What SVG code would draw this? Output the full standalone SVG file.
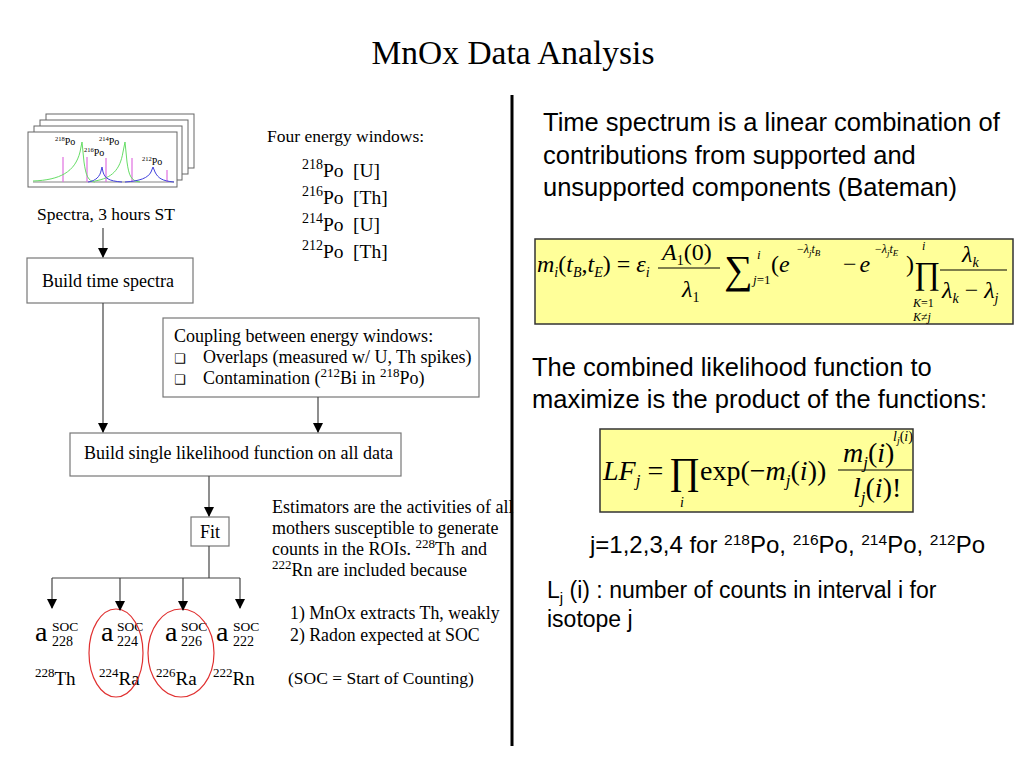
<svg xmlns="http://www.w3.org/2000/svg" width="1024" height="768" viewBox="0 0 1024 768">
<style>
.t{font-family:"Liberation Serif","Times New Roman",serif;fill:#000}
.s{font-family:"Liberation Sans",Arial,sans-serif;fill:#000}
.box{fill:#fff;stroke:#777;stroke-width:1.2}
.frame{fill:#fff;stroke:#666;stroke-width:1}
.ln{stroke:#444;stroke-width:1.2;fill:none}
.fbox{fill:#ffff99;stroke:#333;stroke-width:1.5}
.i{font-style:italic}
.red{fill:none;stroke:#e03030;stroke-width:1.2}
</style>
<defs>
<marker id="ah" markerWidth="10" markerHeight="14" refX="9" refY="5" orient="auto" markerUnits="userSpaceOnUse">
<path d="M0,0 L10,5 L0,10 Z" fill="#000"/>
</marker>
</defs>
<rect width="1024" height="768" fill="#fff"/>
<text class="t" x="513" y="64" font-size="33.5" text-anchor="middle">MnOx Data Analysis</text>
<line x1="512" y1="95" x2="512" y2="746" stroke="#000" stroke-width="3"/>

<g id="spectra">
<rect class="frame" x="46" y="114" width="148" height="54"/>
<rect class="frame" x="40" y="120" width="148" height="54"/>
<rect class="frame" x="34" y="126" width="148" height="54"/>
<rect class="frame" x="28" y="132" width="149" height="55"/>
<line x1="33" y1="182" x2="174" y2="182" stroke="#666" stroke-width="0.8"/>
<g stroke="#e070e0" stroke-width="1.2">
<line x1="63" y1="182" x2="63" y2="157"/>
<line x1="87" y1="182" x2="87" y2="157"/>
<line x1="106" y1="182" x2="106" y2="158"/>
<line x1="132" y1="182" x2="132" y2="158"/>
<line x1="167" y1="182" x2="167" y2="170"/>
</g>
<g fill="none" stroke="#66dd66" stroke-width="1">
<path d="M33,181 C60,180 75,172 80,152 L82,142 L84,162 C86,176 88,181 95,182"/>
<path d="M95,181 C112,178 120,170 123,152 L125,142 L127,162 C129,176 131,181 140,182"/>
</g>
<g fill="none" stroke="#4040dd" stroke-width="1">
<path d="M88,182 C96,181 100,176 101,171 L102,167 L103,172 C105,178 108,181 122,182"/>
<path d="M125,182 C140,181 148,178 151,172 L153,167 L155,172 C158,178 162,181 174,182"/>
</g>
<g class="t" font-size="10">
<text x="55" y="145"><tspan font-size="6.5" dy="-4">218</tspan><tspan dy="4">Po</tspan></text>
<text x="84" y="156"><tspan font-size="6.5" dy="-4">216</tspan><tspan dy="4">Po</tspan></text>
<text x="99" y="145"><tspan font-size="6.5" dy="-4">214</tspan><tspan dy="4">Po</tspan></text>
<text x="142" y="165"><tspan font-size="6.5" dy="-4">212</tspan><tspan dy="4">Po</tspan></text>
</g>
<text class="t" x="37" y="220" font-size="17.5">Spectra, 3 hours ST</text>
</g>

<g id="windows" class="t" font-size="19.5">
<text x="267" y="142" font-size="17.5">Four energy windows:</text>
<text x="302" y="177"><tspan font-size="14" dy="-8">218</tspan><tspan dy="8">Po</tspan></text><text x="353" y="177">[U]</text>
<text x="302" y="204"><tspan font-size="14" dy="-8">216</tspan><tspan dy="8">Po</tspan></text><text x="353" y="204">[Th]</text>
<text x="302" y="231"><tspan font-size="14" dy="-8">214</tspan><tspan dy="8">Po</tspan></text><text x="353" y="231">[U]</text>
<text x="302" y="258"><tspan font-size="14" dy="-8">212</tspan><tspan dy="8">Po</tspan></text><text x="353" y="258">[Th]</text>
</g>

<g id="build-time">
<rect class="box" x="27" y="258" width="166" height="45"/>
<text class="t" x="42" y="287" font-size="18">Build time spectra</text>
</g>

<g id="coupling">
<rect class="box" x="163" y="318" width="316" height="79"/>
<text class="t" x="174" y="342" font-size="18">Coupling between energy windows:</text>
<text x="174" y="363" font-size="13" font-family="DejaVu Sans,sans-serif">❑</text>
<text class="t" x="203" y="363" font-size="18">Overlaps (measured w/ U, Th spikes)</text>
<text x="174" y="384" font-size="13" font-family="DejaVu Sans,sans-serif">❑</text>
<text class="t" x="203" y="384" font-size="18">Contamination (<tspan font-size="13" dy="-7">212</tspan><tspan dy="7">Bi in </tspan><tspan font-size="13" dy="-7">218</tspan><tspan dy="7">Po)</tspan></text>
</g>

<g id="likelihood">
<rect class="box" x="70" y="433" width="331" height="43"/>
<text class="t" x="84" y="459" font-size="18">Build single likelihood function on all data</text>
</g>

<g id="fit">
<rect class="box" x="191" y="517" width="38" height="29"/>
<text class="t" x="210" y="538" font-size="18" text-anchor="middle">Fit</text>
</g>

<g id="estimators" class="t" font-size="18">
<text x="272" y="513">Estimators are the activities of all</text>
<text x="272" y="534">mothers susceptible to generate</text>
<text x="272" y="555">counts in the ROIs. <tspan font-size="13" dy="-7">228</tspan><tspan dy="7">Th</tspan><tspan dx="6">and</tspan></text>
<text x="272" y="576"><tspan font-size="13" dy="-7">222</tspan><tspan dy="7">Rn are included because</tspan></text>
<text x="290" y="619" font-size="17.8">1) MnOx extracts Th, weakly</text>
<text x="290" y="641" font-size="17.8">2) Radon expected at SOC</text>
<text x="288" y="684" font-size="17.5">(SOC = Start of Counting)</text>
</g>

<g id="a228" class="t">
<text x="35" y="641" font-size="28">a</text>
<text x="52" y="631" font-size="13.5">SOC</text>
<text x="52" y="646" font-size="14">228</text>
<text x="35" y="685" font-size="19"><tspan font-size="13" dy="-8">228</tspan><tspan dy="8">Th</tspan></text>
</g>
<g id="a224" class="t">
<text x="101" y="641" font-size="28">a</text>
<text x="117" y="631" font-size="13.5">SOC</text>
<text x="117" y="646" font-size="14">224</text>
<text x="99" y="685" font-size="19"><tspan font-size="13" dy="-8">224</tspan><tspan dy="8">Ra</tspan></text>
<ellipse class="red" cx="116" cy="653" rx="27" ry="44"/>
</g>
<g id="a226" class="t">
<text x="165" y="641" font-size="28">a</text>
<text x="181" y="631" font-size="13.5">SOC</text>
<text x="181" y="646" font-size="14">226</text>
<text x="156" y="685" font-size="19"><tspan font-size="13" dy="-8">226</tspan><tspan dy="8">Ra</tspan></text>
<ellipse class="red" cx="181" cy="653" rx="33" ry="44"/>
</g>
<g id="a222" class="t">
<text x="216" y="641" font-size="28">a</text>
<text x="233" y="631" font-size="13.5">SOC</text>
<text x="233" y="646" font-size="14">222</text>
<text x="213" y="685" font-size="19"><tspan font-size="13" dy="-8">222</tspan><tspan dy="8">Rn</tspan></text>
</g>

<g id="connectors" class="ln">
<line x1="103" y1="228" x2="103" y2="257" marker-end="url(#ah)"/>
<line x1="103" y1="303" x2="103" y2="432" marker-end="url(#ah)"/>
<line x1="318" y1="397" x2="318" y2="432" marker-end="url(#ah)"/>
<line x1="209" y1="476" x2="209" y2="516" marker-end="url(#ah)"/>
<polyline points="209,546 209,578"/>
<line x1="52" y1="578" x2="240" y2="578"/>
<line x1="52" y1="578" x2="52" y2="608" marker-end="url(#ah)"/>
<line x1="120" y1="578" x2="120" y2="610" marker-end="url(#ah)"/>
<line x1="183" y1="578" x2="183" y2="610" marker-end="url(#ah)"/>
<line x1="240" y1="578" x2="240" y2="608" marker-end="url(#ah)"/>
</g>

<g id="right-text" class="s" font-size="25.5">
<text x="543" y="131">Time spectrum is a linear combination of</text>
<text x="543" y="164">contributions from supported and</text>
<text x="543" y="196">unsupported components (Bateman)</text>
<text x="532" y="376">The combined likelihood function to</text>
<text x="532" y="408">maximize is the product of the functions:</text>
<text x="590" y="553" font-size="24">j=1,2,3,4 for <tspan font-size="15.5" dy="-8">218</tspan><tspan dy="8">Po, </tspan><tspan font-size="15.5" dy="-8">216</tspan><tspan dy="8">Po, </tspan><tspan font-size="15.5" dy="-8">214</tspan><tspan dy="8">Po, </tspan><tspan font-size="15.5" dy="-8">212</tspan><tspan dy="8">Po</tspan></text>
<text x="547" y="598" font-size="23">L<tspan font-size="15" dy="5">j</tspan><tspan dy="-5"> (i) : number of counts in interval i for</tspan></text>
<text x="547" y="627" font-size="23">isotope j</text>
</g>

<g id="formula1" class="t">
<rect class="fbox" x="535" y="239" width="478" height="85"/>
<g font-size="24">
<text x="537" y="272"><tspan class="i">m</tspan><tspan class="i" font-size="14" dy="5">i</tspan><tspan dy="-5">(</tspan><tspan class="i">t</tspan><tspan class="i" font-size="14" dy="5">B</tspan><tspan dy="-5">,</tspan><tspan class="i">t</tspan><tspan class="i" font-size="14" dy="5">E</tspan><tspan dy="-5">) = </tspan><tspan class="i">ε</tspan><tspan class="i" font-size="14" dy="5">i</tspan></text>
<text x="662" y="260"><tspan class="i">A</tspan><tspan font-size="14" dy="5">1</tspan><tspan dy="-5">(0)</tspan></text>
<text x="682" y="297"><tspan class="i">λ</tspan><tspan font-size="14" dy="5">1</tspan></text>
<text x="724" y="283" font-size="40">∑</text>
<text class="i" x="757" y="259" font-size="13">i</text>
<text x="753" y="284" font-size="13"><tspan class="i">j</tspan>=1</text>
<text x="771" y="272">(<tspan class="i">e</tspan></text>
<text x="797" y="253" font-size="12">−<tspan class="i">λ</tspan><tspan class="i" font-size="9" dy="3">j</tspan><tspan class="i" dy="-3">t</tspan><tspan class="i" font-size="9" dy="3">B</tspan></text>
<text x="843" y="272">−<tspan class="i" dx="3">e</tspan></text>
<text x="875" y="253" font-size="12">−<tspan class="i">λ</tspan><tspan class="i" font-size="9" dy="3">j</tspan><tspan class="i" dy="-3">t</tspan><tspan class="i" font-size="9" dy="3">E</tspan></text>
<text x="906" y="272">)</text>
<text x="914" y="284" font-size="32">∏</text>
<text class="i" x="922" y="250" font-size="12">i</text>
<text x="913" y="307" font-size="12"><tspan class="i">K</tspan>=1</text>
<text x="913" y="321" font-size="12"><tspan class="i">K</tspan>≠<tspan class="i">j</tspan></text>
<text x="962" y="262"><tspan class="i">λ</tspan><tspan class="i" font-size="14" dy="5">k</tspan></text>
<text x="942" y="298"><tspan class="i">λ</tspan><tspan class="i" font-size="14" dy="5">k</tspan><tspan dy="-5"> − </tspan><tspan class="i">λ</tspan><tspan class="i" font-size="14" dy="5">j</tspan></text>
</g>
<line x1="658" y1="268" x2="720" y2="268" stroke="#000" stroke-width="1"/>
<line x1="940" y1="270" x2="1007" y2="270" stroke="#000" stroke-width="1"/>
</g>

<g id="formula2" class="t">
<rect class="fbox" x="600" y="429" width="313" height="83"/>
<g font-size="28">
<text x="603" y="480"><tspan class="i">LF</tspan><tspan class="i" font-size="17" dy="6">j</tspan><tspan dy="-6"> =</tspan></text>
<text x="669" y="484" font-size="38">∏</text>
<text class="i" x="680" y="507" font-size="14">i</text>
<text x="700" y="480">exp(−<tspan class="i">m</tspan><tspan class="i" font-size="17" dy="6">j</tspan><tspan dy="-6">(</tspan><tspan class="i">i</tspan>))</text>
<text x="843" y="462"><tspan class="i">m</tspan><tspan class="i" font-size="17" dy="6">j</tspan><tspan dy="-6">(</tspan><tspan class="i">i</tspan>)</text>
<text x="893" y="441" font-size="14"><tspan class="i">l</tspan><tspan class="i" font-size="10" dy="3">j</tspan><tspan dy="-3">(</tspan><tspan class="i">i</tspan>)</text>
<text x="853" y="497"><tspan class="i">l</tspan><tspan class="i" font-size="17" dy="6">j</tspan><tspan dy="-6">(</tspan><tspan class="i">i</tspan>)!</text>
</g>
<line x1="838" y1="470" x2="912" y2="470" stroke="#000" stroke-width="1.2"/>
</g>
</svg>
